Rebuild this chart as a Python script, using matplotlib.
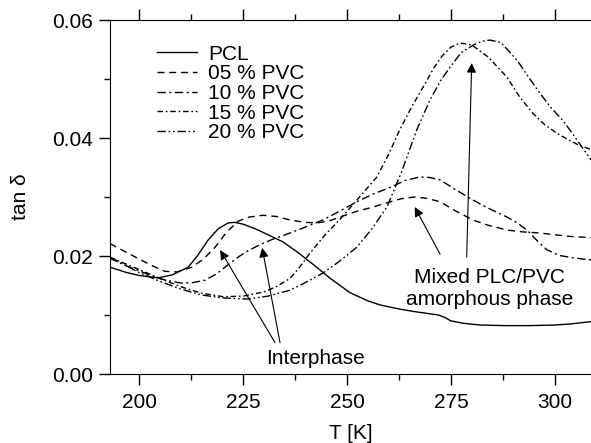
import matplotlib
matplotlib.use("Agg")
import matplotlib.pyplot as plt
from matplotlib.ticker import MultipleLocator

plt.rcParams['font.family'] = ['Liberation Sans', 'DejaVu Sans']

# ---- data (T in K, tan delta) ----
t_pcl = [193, 197, 200, 204.6, 208, 211.8, 214, 216.6, 219, 221.4, 223, 225, 228, 231, 234.6, 238, 242, 246,
         250.7, 255, 258, 262.7, 266, 270, 272, 273.5, 275, 278, 282, 288, 294, 300, 304, 309]
y_pcl = [0.0181, 0.0172, 0.0167, 0.0163, 0.0168, 0.0181, 0.0200, 0.0227, 0.0246, 0.0256, 0.0257, 0.0254,
         0.0246, 0.0236, 0.0224, 0.0207, 0.0185, 0.0162, 0.0138, 0.0124, 0.0117, 0.0110, 0.0106, 0.0102,
         0.0100, 0.0096, 0.0090, 0.0086, 0.0083, 0.0082, 0.0082, 0.0083, 0.0085, 0.0089]

t_05 = [193, 197, 200, 203, 206.2, 209, 212.7, 215.5, 218.3, 221, 223.8, 226.5, 229.8, 233, 236.3, 240,
        242.8, 245.5, 248.3, 252, 256.3, 260, 263, 266.3, 269, 272.4, 276, 280.3, 284, 288.5, 292, 296.4,
        300, 304, 309]
y_05 = [0.0221, 0.0206, 0.0195, 0.0184, 0.0174, 0.0173, 0.0181, 0.0195, 0.0215, 0.0240, 0.0259, 0.0266,
        0.0269, 0.0267, 0.0261, 0.0257, 0.0256, 0.0259, 0.0266, 0.0275, 0.0283, 0.0291, 0.0297, 0.0300,
        0.0298, 0.0292, 0.0277, 0.0261, 0.0252, 0.0244, 0.0241, 0.0239, 0.0236, 0.0233, 0.0231]

t_10 = [193, 197, 200, 203.8, 207, 210.3, 213, 215.9, 218.7, 221, 224, 226, 229, 232, 236.3, 240, 244.2,
        248, 252.4, 256.3, 260.3, 264, 267.5, 270, 272.4, 276, 280.3, 284, 288.5, 291, 293.3, 296, 298,
        301, 304.3, 309]
y_10 = [0.0198, 0.0183, 0.0175, 0.0164, 0.0158, 0.0154, 0.0155, 0.0159, 0.0170, 0.0183, 0.0199, 0.0208,
        0.0219, 0.0228, 0.0239, 0.0249, 0.0261, 0.0275, 0.0292, 0.0305, 0.0316, 0.0328, 0.0334, 0.0333,
        0.0329, 0.0313, 0.0295, 0.0281, 0.0266, 0.0256, 0.0244, 0.0224, 0.0211, 0.0201, 0.0197, 0.0193]

t_15 = [193, 197, 200, 205, 210, 215, 220.2, 225, 230, 233, 236.3, 238.5, 241, 244.5, 248.3, 252.4,
        257.2, 260, 262.7, 265.5, 268.3, 271, 273, 275, 277.2, 280, 284, 288.5, 291.5, 294.7, 297.5,
        300.5, 303, 306, 309]
y_15 = [0.0198, 0.0186, 0.0177, 0.0162, 0.0148, 0.0137, 0.0131, 0.0132, 0.0139, 0.0148, 0.0162, 0.0180,
        0.0204, 0.0234, 0.0262, 0.0295, 0.0334, 0.0372, 0.0414, 0.0452, 0.0486, 0.0520, 0.0540, 0.0554,
        0.0561, 0.0558, 0.0537, 0.0503, 0.0470, 0.0442, 0.0423, 0.0408, 0.0398, 0.0387, 0.0380]

t_20 = [193, 197, 200, 205, 210, 215, 220, 226, 231, 236.3, 240, 244.2, 248, 252.4, 256, 259.6, 263,
        266.8, 270, 272.5, 274.8, 277.5, 280.5, 282.5, 284.4, 287, 290.9, 293.5, 296.4, 299, 301.9, 304,
        306, 308.7]
y_20 = [0.0196, 0.0183, 0.0172, 0.0157, 0.0144, 0.0134, 0.0129, 0.0127, 0.0132, 0.0142, 0.0155, 0.0171,
        0.0190, 0.0215, 0.0246, 0.0283, 0.0340, 0.0414, 0.0465, 0.0497, 0.0520, 0.0545, 0.0558, 0.0564,
        0.0566, 0.0562, 0.0532, 0.0505, 0.0476, 0.0452, 0.0430, 0.0410, 0.0390, 0.0363]

labels = ["PCL", "05 % PVC", "10 % PVC", "15 % PVC", "20 % PVC"]
x_ticks = [200, 225, 250, 275, 300]
y_ticks = [0.00, 0.02, 0.04, 0.06]

styles = ["-", (0, (5, 3.5)), (0, (6, 2.5, 1.5, 2.5)), (0, (4, 2, 1.2, 2)), (0, (6, 2, 1.2, 2, 1.2, 2))]

fig = plt.figure(figsize=(5.91, 4.43), dpi=100)
ax = fig.add_axes([110 / 591, 69 / 443, 481 / 591, 354 / 443])

for t, y, ls, lab in zip([t_pcl, t_05, t_10, t_15, t_20], [y_pcl, y_05, y_10, y_15, y_20], styles, labels):
    ax.plot(t, y, color="black", lw=1.0, linestyle=ls, label=lab)

ax.set_xlim(193, 308.7)
ax.set_ylim(0, 0.06)
ax.set_xticks(x_ticks)
ax.set_yticks(y_ticks)
ax.set_yticklabels(["%.2f" % v for v in y_ticks])
ax.xaxis.set_minor_locator(MultipleLocator(12.5))
ax.yaxis.set_minor_locator(MultipleLocator(0.01))
ax.spines["right"].set_visible(False)
ax.tick_params(axis="both", which="major", direction="out", length=8, width=1, labelsize=15, pad=4)
ax.tick_params(axis="x", which="major", pad=6)
ax.tick_params(axis="both", which="minor", direction="out", length=4, width=1)
ax.tick_params(axis="x", which="both", top=True)
ax.set_xlabel("T [K]", fontsize=15, labelpad=8)
ax.set_ylabel("tan δ", fontsize=15, labelpad=16)

ax.legend(loc="upper left", bbox_to_anchor=(0.098, 0.93), frameon=False, fontsize=15,
          handlelength=1.9, handletextpad=0.55, labelspacing=0.03, borderpad=0, borderaxespad=0)

arrow = dict(arrowstyle="-|>", color="black", lw=0.8, mutation_scale=14, shrinkA=0, shrinkB=0)
ax.text(242.4, 0.0026, "Interphase", ha="center", va="center", fontsize=15)
ax.annotate("", xy=(219.5, 0.0210), xytext=(232.7, 0.0053), arrowprops=arrow)
ax.annotate("", xy=(229.6, 0.0214), xytext=(233.9, 0.0053), arrowprops=arrow)

ax.text(284.3, 0.0145, "Mixed PLC/PVC\namorphous phase", ha="center", va="center", fontsize=15,
        linespacing=1.2)
ax.annotate("", xy=(266.3, 0.0283), xytext=(272.4, 0.0203), arrowprops=arrow)
ax.annotate("", xy=(280.0, 0.0527), xytext=(278.8, 0.0198), arrowprops=arrow)

fig.savefig("out.png", dpi=100)
